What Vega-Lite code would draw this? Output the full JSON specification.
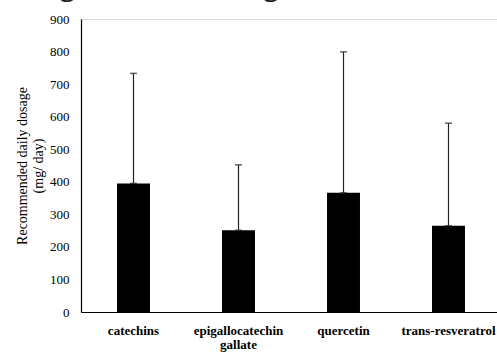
{
  "$schema": "https://vega.github.io/schema/vega-lite/v6.json",
  "width": 420,
  "height": 293,
  "autosize": {"type": "none"},
  "padding": {"left": 81, "top": 19, "right": 0, "bottom": 42},
  "background": "white",
  "title": {
    "text": "biological sources (Fig. 3).",
    "anchor": "end",
    "frame": "group",
    "font": "Open Sans",
    "fontSize": 28,
    "fontWeight": "normal",
    "color": "#222222",
    "baseline": "alphabetic",
    "offset": 0,
    "dx": -176,
    "dy": 10
  },
  "data": {
    "values": [
      {"compound": "catechins", "mean": 395, "upper": 733},
      {"compound": "epigallocatechin gallate", "mean": 251, "upper": 452},
      {"compound": "quercetin", "mean": 366, "upper": 799},
      {"compound": "trans-resveratrol", "mean": 265, "upper": 580}
    ]
  },
  "encoding": {
    "x": {
      "field": "compound",
      "type": "nominal",
      "sort": null,
      "scale": {"paddingInner": 0.686, "paddingOuter": 0.343},
      "axis": {
        "title": null,
        "labelAngle": 0,
        "labelFont": "Liberation Serif",
        "labelFontSize": 13,
        "labelFontWeight": "bold",
        "labelColor": "black",
        "labelPadding": 12,
        "labelLimit": 0,
        "labelLineHeight": 14,
        "labelExpr": "split(datum.value, ' ')",
        "ticks": false,
        "domainColor": "black",
        "domainWidth": 1.2,
        "grid": false
      }
    },
    "y": {
      "field": "mean",
      "type": "quantitative",
      "scale": {"domain": [0, 900]},
      "axis": {
        "title": ["Recommended daily dosage", "(mg/ day)"],
        "titleFont": "Liberation Serif",
        "titleFontSize": 14,
        "titleFontWeight": "normal",
        "titleColor": "black",
        "titleLineHeight": 16,
        "titlePadding": 4,
        "values": [0, 100, 200, 300, 400, 500, 600, 700, 800, 900],
        "labelFont": "Liberation Serif",
        "labelFontSize": 13,
        "labelColor": "black",
        "labelPadding": 12,
        "ticks": false,
        "grid": false,
        "domainColor": "black",
        "domainWidth": 1.2
      }
    }
  },
  "layer": [
    {
      "mark": {"type": "bar", "color": "black"}
    },
    {
      "mark": {"type": "errorbar", "color": "#222222", "thickness": 1.2, "ticks": {"size": 7, "thickness": 1.5}},
      "encoding": {
        "y2": {"field": "upper"}
      }
    }
  ]
}
